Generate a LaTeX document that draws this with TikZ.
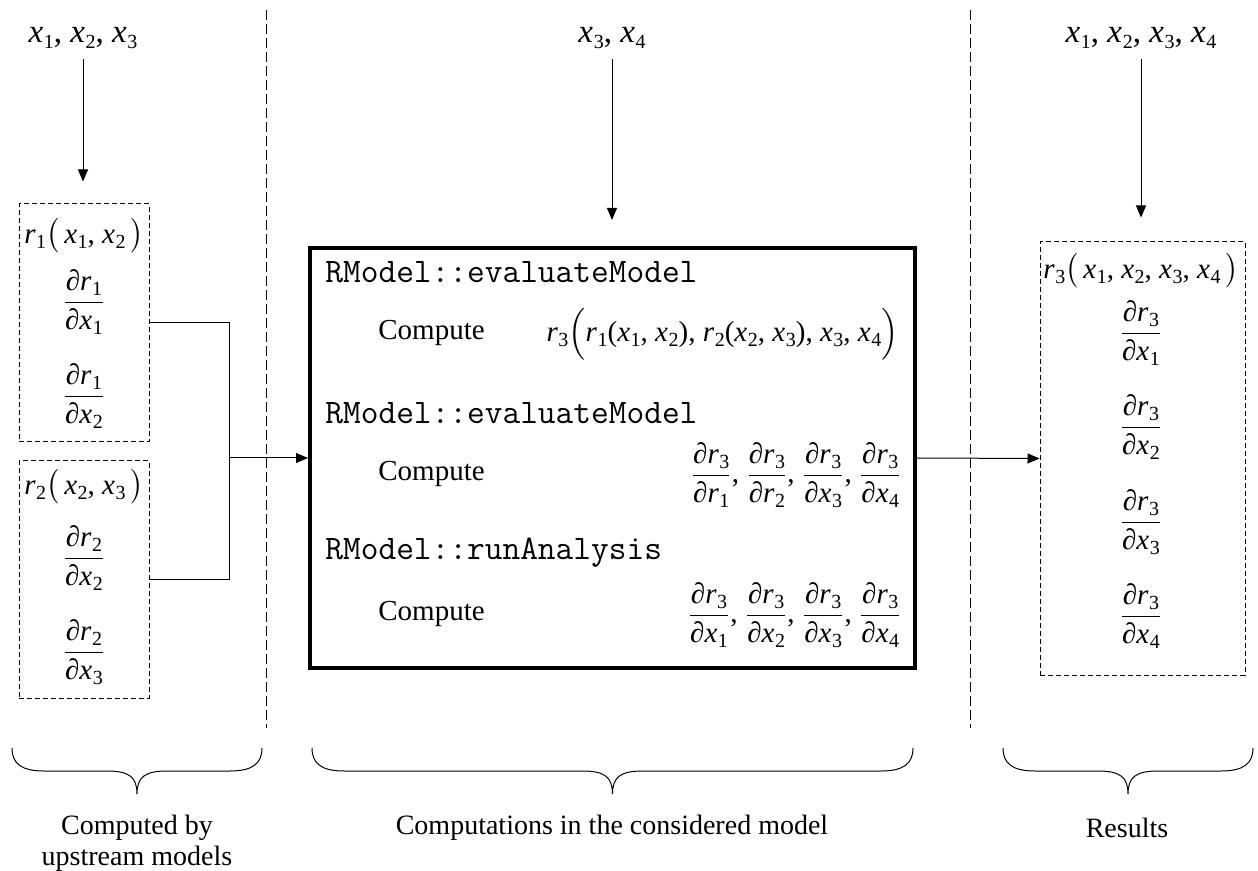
\documentclass[tikz,border=0pt]{standalone}
\usepackage{amsmath}
\usepackage{fontspec}
\setmainfont{Liberation Serif}
\usetikzlibrary{arrows.meta}

% italic variable with a small upright index
\newcommand\iv[2]{\textit{#1}\kern0.02em\raisebox{-0.38ex}{\fontsize{10}{10}\selectfont\upshape #2}}
% partial derivative written as a display fraction
\newcommand\pdf[4]{\ensuremath{\dfrac{\text{∂\iv{#1}{#2}}}{\text{∂\iv{#3}{#4}}}}}
\newcommand\lp{\ensuremath{\bigl(}}
\newcommand\rp{\ensuremath{\bigr)}}
\newcommand\Lp{\ensuremath{\Bigl(}}
\newcommand\Rp{\ensuremath{\Bigr)}}

\tikzset{
  txt/.style={inner sep=0pt, font=\fontsize{14.5}{16}\selectfont},
  head/.style={inner sep=0pt, font=\fontsize{16.5}{18}\selectfont},
  code/.style={inner sep=0pt, anchor=west, font=\fontsize{17.2}{18}\selectfont\ttfamily},
  lbl/.style={inner sep=0pt, align=center, font=\fontsize{14}{15.5}\selectfont},
  dashbox/.style={draw, dash pattern=on 2.5pt off 1.5pt, line width=0.5pt, inner sep=0pt},
  mainbox/.style={draw, line width=2pt, inner sep=0pt, minimum width=302.5pt, minimum height=210pt},
  divider/.style={line width=0.5pt, dash pattern=on 5pt off 2pt},
  flow/.style={line width=0.5pt, -{Triangle[length=6pt,width=5pt]}},
  wire/.style={line width=0.5pt},
  curly/.style={line width=0.5pt}
}

% downward curly brace between x-positions #1 and #2
\newcommand\bracebelow[2]{%
  \draw[curly] (#1,748) .. controls (#1,764) and ({#1+10},771) .. ({#1+32},771)
    -- ({(#1+#2)/2-30},771) .. controls ({(#1+#2)/2-8},771) and ({(#1+#2)/2},777) .. ({(#1+#2)/2},794)
    .. controls ({(#1+#2)/2},777) and ({(#1+#2)/2+8},771) .. ({(#1+#2)/2+30},771)
    -- ({#2-32},771) .. controls ({#2-10},771) and (#2,764) .. (#2,748);}

\begin{document}
\begin{tikzpicture}[x=0.5pt,y=-0.5pt]
\useasboundingbox (0,0) rectangle (1258,871);

% section dividers
\draw[divider] (266,10) -- (266,728);
\draw[divider] (970,10) -- (970,728);

% inputs
\node[head] (in1) at (83,38) {\iv{x}{1}, \iv{x}{2}, \iv{x}{3}};
\node[head] (in2) at (612,38) {\iv{x}{3}, \iv{x}{4}};
\node[head] (in3) at (1141,38) {\iv{x}{1}, \iv{x}{2}, \iv{x}{3}, \iv{x}{4}};

% upstream model outputs
\node[dashbox, minimum width=65pt, minimum height=119pt] (b1) at (84,323) {};
\node[dashbox, minimum width=65pt, minimum height=118.5pt] (b2) at (84,579.5) {};
\node[txt] at (84,236) {\iv{r}{1}\lp\,\iv{x}{1}, \iv{x}{2}\,\rp};
\node[txt] at (84,302) {\pdf{r}{1}{x}{1}};
\node[txt] at (84,396) {\pdf{r}{1}{x}{2}};
\node[txt] at (84,487) {\iv{r}{2}\lp\,\iv{x}{2}, \iv{x}{3}\,\rp};
\node[txt] at (84,558) {\pdf{r}{2}{x}{2}};
\node[txt] at (84,652) {\pdf{r}{2}{x}{3}};

% considered model
\node[mainbox] (m) at (612.5,458) {};
\node[code] at (325,272) {RModel::evaluateModel};
\node[txt, anchor=west] at (378,333) {Compute};
\node[txt, anchor=east] at (899,334) {\iv{r}{3}\Lp\iv{r}{1}(\iv{x}{1}, \iv{x}{2}), \iv{r}{2}(\iv{x}{2}, \iv{x}{3}), \iv{x}{3}, \iv{x}{4}\Rp};
\node[code] at (325,413) {RModel::evaluateModel};
\node[txt, anchor=west] at (378,474) {Compute};
\node[txt, anchor=east] at (902,475) {\pdf{r}{3}{r}{1}, \pdf{r}{3}{r}{2}, \pdf{r}{3}{x}{3}, \pdf{r}{3}{x}{4}};
\node[code] at (325,553) {RModel::runAnalysis};
\node[txt, anchor=west] at (378,614) {Compute};
\node[txt, anchor=east] at (902,615) {\pdf{r}{3}{x}{1}, \pdf{r}{3}{x}{2}, \pdf{r}{3}{x}{3}, \pdf{r}{3}{x}{4}};

% results
\node[dashbox, minimum width=102.5pt, minimum height=216.5pt] (res) at (1142.5,458.5) {};
\node[txt] at (1141,271) {\iv{r}{3}\lp\,\iv{x}{1}, \iv{x}{2}, \iv{x}{3}, \iv{x}{4}\,\rp};
\node[txt] at (1141,333) {\pdf{r}{3}{x}{1}};
\node[txt] at (1141,427) {\pdf{r}{3}{x}{2}};
\node[txt] at (1141,522) {\pdf{r}{3}{x}{3}};
\node[txt] at (1141,616) {\pdf{r}{3}{x}{4}};

% connectors
\coordinate (j) at (229,458);
\draw[flow, shorten <=5pt, shorten >=11pt] (in1) -- (in1 |- b1.north);
\draw[flow, shorten <=5pt, shorten >=13pt] (in2) -- (in2 |- m.north);
\draw[flow, shorten <=5pt, shorten >=12pt] (in3) -- (in3 |- res.north);
\draw[wire] (b1.east) -| (j);
\draw[wire] (b2.east) -| (j);
\draw[flow] (j) -- (m.west);
\draw[flow] (m.east) -- (res.west);

% braces and captions
\bracebelow{12}{262}
\bracebelow{312}{913}
\bracebelow{1003}{1253}
\node[lbl] at (137,843) {Computed by\\upstream models};
\node[lbl] at (612,828) {Computations in the considered model};
\node[lbl] at (1127,828) {Results};
\end{tikzpicture}
\end{document}
